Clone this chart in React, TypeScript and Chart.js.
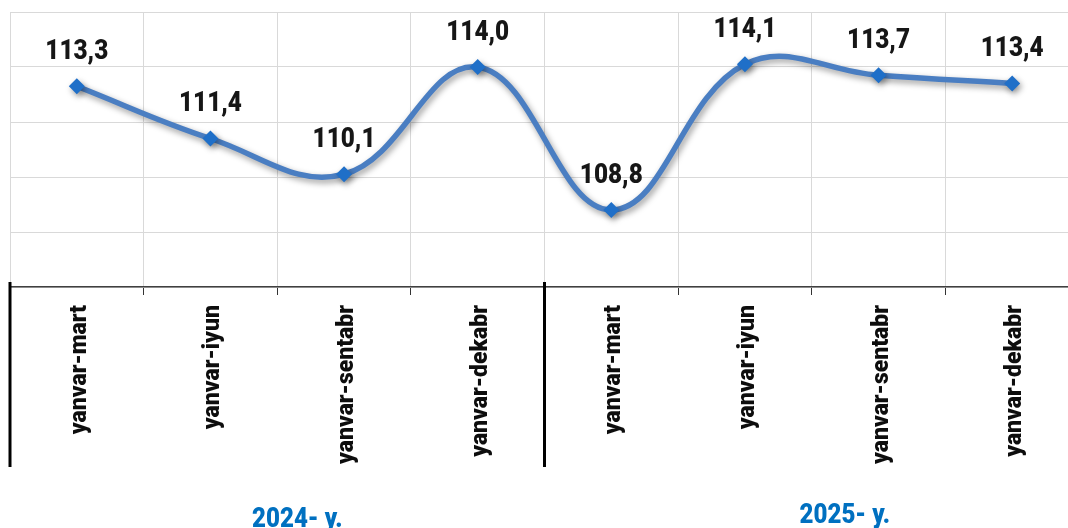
import React, { useEffect, useRef } from "react";
import { Chart, registerables } from "chart.js";

Chart.register(...registerables);

const categories = [
  "yanvar-mart",
  "yanvar-iyun",
  "yanvar-sentabr",
  "yanvar-dekabr",
  "yanvar-mart",
  "yanvar-iyun",
  "yanvar-sentabr",
  "yanvar-dekabr",
];
const values = [113.3, 111.4, 110.1, 114.0, 108.8, 114.1, 113.7, 113.4];
const yearLabels = ["2024- y.", "2025- y."];
const groupSize = 4;
const yMin = 106;
const yMax = 116;
const yStep = 2;

const fmt = (v: number) => v.toFixed(1).replace(".", ",");

const overlayPlugin = {
  id: "overlay",
  beforeDatasetsDraw(chart: any) {
    const ctx = chart.ctx;
    ctx.save();
    ctx.shadowColor = "rgba(0,0,0,0.4)";
    ctx.shadowBlur = 6;
    ctx.shadowOffsetX = 2;
    ctx.shadowOffsetY = 3;
  },
  afterDatasetsDraw(chart: any) {
    chart.ctx.restore();
  },
  afterDraw(chart: any) {
    const ctx = chart.ctx;
    const xs = chart.scales.x;
    const area = chart.chartArea;
    const meta = chart.getDatasetMeta(0);
    const half = (xs.getPixelForValue(1) - xs.getPixelForValue(0)) / 2;

    // data labels
    ctx.save();
    ctx.fillStyle = "#161616";
    ctx.font = "900 27px Roboto";
    ctx.textAlign = "center";
    ctx.textBaseline = "alphabetic";
    meta.data.forEach((pt: any, i: number) => {
      ctx.save();
      ctx.translate(pt.x, pt.y - 27.5);
      ctx.scale(0.9, 1);
      ctx.fillText(fmt(values[i]), 0, 0);
      ctx.restore();
    });
    ctx.restore();

    // category labels (rotated)
    ctx.save();
    ctx.fillStyle = "#0d0d0d";
    ctx.font = "900 23px Roboto";
    ctx.textAlign = "right";
    ctx.textBaseline = "alphabetic";
    categories.forEach((c, i) => {
      const x = xs.getPixelForValue(i);
      ctx.save();
      ctx.translate(x + 9, area.bottom + 18);
      ctx.rotate(-Math.PI / 2);
      ctx.fillText(c, 0, 0);
      ctx.restore();
    });
    ctx.restore();

    // group separators
    ctx.save();
    ctx.strokeStyle = "#000";
    ctx.lineWidth = 3;
    for (let g = 0; g < yearLabels.length; g++) {
      const x = xs.getPixelForValue(g * groupSize) - half;
      ctx.beginPath();
      ctx.moveTo(x, area.bottom - 5);
      ctx.lineTo(x, 467);
      ctx.stroke();
    }
    ctx.restore();

    // year labels
    ctx.save();
    ctx.fillStyle = "#0070C0";
    ctx.font = "900 28px Roboto";
    ctx.textAlign = "center";
    ctx.textBaseline = "alphabetic";
    const offs = [
      { dx: 20, y: 527 },
      { dx: 33, y: 523 },
    ];
    yearLabels.forEach((t, g) => {
      const x0 = xs.getPixelForValue(g * groupSize) - half;
      const x1 = xs.getPixelForValue(g * groupSize + groupSize - 1) + half;
      const cx = (x0 + x1) / 2 + offs[g].dx;
      ctx.save();
      ctx.translate(cx, offs[g].y);
      ctx.scale(0.86, 1);
      ctx.fillText(t, 0, 0);
      ctx.restore();
    });
    ctx.restore();
  },
};

export default function App() {
  const ref = useRef<HTMLCanvasElement>(null);
  useEffect(() => {
    if (!ref.current) return;
    const chart = new Chart(ref.current, {
      type: "line",
      data: {
        labels: categories,
        datasets: [
          {
            data: values,
            borderColor: "#4A7EC2",
            borderWidth: 5.5,
            tension: 0.4,
            pointStyle: "rectRot",
            pointRadius: 8,
            pointBackgroundColor: "#1F6FC8",
            pointBorderColor: "#1F6FC8",
            pointBorderWidth: 0,
            fill: false,
          },
        ],
      },
      options: {
        responsive: false,
        animation: false,
        devicePixelRatio: 1,
        layout: { padding: { left: 10, right: 11, top: 12, bottom: 233 } },
        plugins: {
          legend: { display: false },
          tooltip: { enabled: false },
        },
        scales: {
          x: {
            type: "category",
            offset: true,
            grid: {
              offset: true,
              color: "#D9D9D9",
              lineWidth: 1,
              drawTicks: true,
              tickLength: 8,
              tickColor: "#333",
            },
            border: { display: true, color: "#404040", width: 1.5 },
            ticks: { display: false },
          },
          y: {
            min: yMin,
            max: yMax,
            ticks: { display: false, stepSize: yStep },
            grid: { color: "#D9D9D9", lineWidth: 1, drawTicks: false },
            border: { display: false },
          },
        },
      },
      plugins: [overlayPlugin],
    });
    return () => chart.destroy();
  }, []);
  return (
    <div
      style={{
        position: "fixed",
        left: 0,
        top: 0,
        width: 1068,
        height: 528,
        overflow: "hidden",
        background: "#fff",
      }}
    >
      <canvas ref={ref} width={1090} height={528} style={{ width: 1090, height: 528 }} />
    </div>
  );
}
